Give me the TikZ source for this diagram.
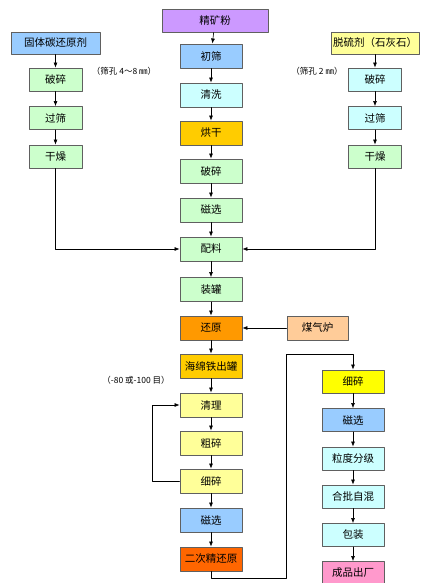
\documentclass[tikz,border=0pt]{standalone}
\usepackage{fontspec}
\setmainfont{Noto Sans CJK SC}
\usetikzlibrary{arrows.meta}
\definecolor{cPurple}{HTML}{CC99FF}
\definecolor{cBlue}{HTML}{99CCFF}
\definecolor{cCyan}{HTML}{CCFFFF}
\definecolor{cGreen}{HTML}{CCFFCC}
\definecolor{cGold}{HTML}{FFCC00}
\definecolor{cLYellow}{HTML}{FFFF99}
\definecolor{cYellow}{HTML}{FFFF00}
\definecolor{cOrange}{HTML}{FF9900}
\definecolor{cRed}{HTML}{FF6600}
\definecolor{cTan}{HTML}{FFCC99}
\definecolor{cPink}{HTML}{FF99CC}
\definecolor{cEdge}{HTML}{606060}

\begin{document}
\begin{tikzpicture}[x=1pt,y=-1pt,line cap=round,line join=round,
  every node/.style={font=\fontsize{10.5}{12}\selectfont},
  procbox/.style={draw=cEdge,line width=.9pt,minimum width=62pt,minimum height=24pt,
    inner sep=1pt},
  smallbox/.style={procbox,minimum width=53pt,minimum height=23pt},
  flow/.style={line width=.6pt,-{Latex[length=5pt,width=4pt]}},
  note/.style={font=\fontsize{8.5}{10}\selectfont}]
  \useasboundingbox (0,0) rectangle (441,583);
  % main column
  \node[procbox,fill=cPurple,minimum width=106pt,minimum height=23pt] (jkf) at (215,20.5) {精矿粉};
  \node[procbox,fill=cBlue] (cs) at (211,56) {初筛};
  \node[procbox,fill=cCyan] (qx) at (211,95) {清洗};
  \node[procbox,fill=cGold] (hg) at (211,133) {烘干};
  \node[procbox,fill=cGreen] (ps) at (211,171) {破碎};
  \node[procbox,fill=cGreen] (cx) at (211,210) {磁选};
  \node[procbox,fill=cGreen] (pl) at (211,249) {配料};
  \node[procbox,fill=cGreen] (zg) at (211,289.5) {装罐};
  \node[procbox,fill=cOrange] (hy) at (211,328) {还原};
  \node[procbox,fill=cGold] (hmt) at (211,366) {海绵铁出罐};
  \node[procbox,fill=cLYellow] (ql) at (211,405) {清理};
  \node[procbox,fill=cLYellow] (cus) at (211,443) {粗碎};
  \node[procbox,fill=cLYellow] (xs) at (211,481) {细碎};
  \node[procbox,fill=cBlue] (cx2) at (211,520) {磁选};
  \node[procbox,fill=cRed] (ecy) at (211,559) {二次精还原};
  % left column
  \node[procbox,fill=cBlue,minimum width=89pt,minimum height=22pt] (gtt) at (55.5,43) {固体碳还原剂};
  \node[smallbox,fill=cGreen] (lps) at (55.5,79.5) {破碎};
  \node[smallbox,fill=cGreen] (lgs) at (55.5,118) {过筛};
  \node[smallbox,fill=cGreen] (lgz) at (55.5,156.5) {干燥};
  % right column
  \node[procbox,fill=cLYellow,minimum width=88pt,minimum height=22pt] (tlj) at (375,43) {脱硫剂（石灰石）};
  \node[smallbox,fill=cCyan] (rps) at (375,79.5) {破碎};
  \node[smallbox,fill=cCyan] (rgs) at (375,118) {过筛};
  \node[smallbox,fill=cGreen] (rgz) at (375,156.5) {干燥};
  \node[procbox,fill=cTan,minimum width=61pt] (mql) at (317.5,328) {煤气炉};
  % lower right column
  \node[procbox,fill=cYellow,minimum height=23pt] (rxs) at (353,381.5) {细碎};
  \node[procbox,fill=cBlue,minimum height=23pt] (rcx) at (353,420) {磁选};
  \node[procbox,fill=cCyan,minimum height=23pt] (ldfj) at (353,458.5) {粒度分级};
  \node[procbox,fill=cCyan,minimum height=23pt] (hpzh) at (353,496.5) {合批自混};
  \node[procbox,fill=cCyan,minimum height=23pt] (bz) at (353,535) {包装};
  \node[procbox,fill=cPink,minimum height=23pt] (cpcc) at (353,573) {成品出厂};
  % notes
  \node[note] (n1) at (124,71) {（筛孔 4～8 ㎜）};
  \node[note] (n2) at (317,71) {（筛孔 2 ㎜）};
  \node[note] (n3) at (136,380) {（-80 或-100 目）};
  % connectors
  \foreach \a/\b in {jkf/cs,cs/qx,qx/hg,hg/ps,ps/cx,cx/pl,pl/zg,zg/hy,hy/hmt,hmt/ql,
    ql/cus,cus/xs,xs/cx2,cx2/ecy,gtt/lps,lps/lgs,lgs/lgz,tlj/rps,rps/rgs,rgs/rgz,
    rxs/rcx,rcx/ldfj,ldfj/hpzh,hpzh/bz,bz/cpcc}
    \draw[flow] (\a) -- (\b);
  \draw[flow] (lgz) |- (pl);
  \draw[flow] (rgz) |- (pl);
  \draw[flow] (mql) -- (hy);
  \draw[flow] (xs.west) -- ++(-27,0) |- (ql.west);
  \coordinate (b1) at (286,578);
  \coordinate (b2) at (286,354);
  \draw[flow] (ecy.south) |- (b1) -- (b2) -| (rxs.north);
\end{tikzpicture}
\end{document}
